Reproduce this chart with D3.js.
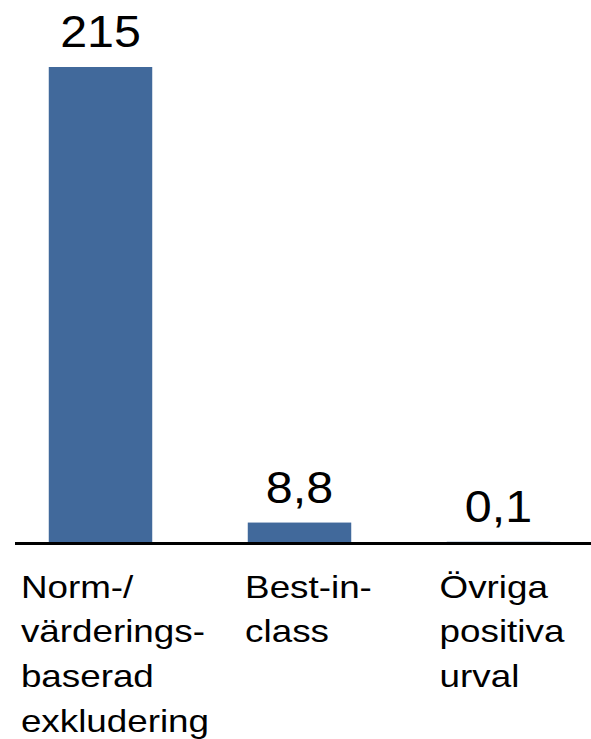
<!DOCTYPE html>
<html lang="sv">
<meta charset="utf-8">
<head>
    <title>Bar chart</title>
    <script src="https://cdn.jsdelivr.net/npm/d3@7"></script>
    <style>
        body {
            margin: 0;
            background: #fff;
            font-family: "Liberation Sans", Arial, sans-serif;
        }
        .value-label { font-size: 44px; fill: #000; }
        .cat-label { font-size: 32px; fill: #000; }
    </style>
</head>
<body>
<script>
    // Data
    const categories = ["norm", "best", "ovriga"];
    const categoryLines = [
        ["Norm-/", "värderings-", "baserad", "exkludering"],
        ["Best-in-", "class"],
        ["Övriga", "positiva", "urval"]
    ];
    const values = [215, 8.8, 0.1];
    const valueLabels = ["215", "8,8", "0,1"];

    const width = 591, height = 739;
    const baseY = 542;
    const stretch = 1.1;     // value text in the picture is slightly wide
    const catStretch = 1.15;

    const svg = d3.select("body").append("svg")
        .attr("width", width)
        .attr("height", height);

    const x = d3.scaleBand()
        .domain(categories)
        .range([1, 598])
        .paddingInner(0.48)
        .paddingOuter(0.24);

    // label blocks sit on a slightly tighter spacing than the bars
    const xLabel = d3.scalePoint()
        .domain(categories)
        .range([115, 502]);

    const y = d3.scaleLinear()
        .domain([0, 215])
        .range([baseY, 67]);

    // bars
    svg.selectAll("rect.bar")
        .data(values)
        .enter().append("rect")
        .attr("class", "bar")
        .attr("x", (d, i) => x(categories[i]))
        .attr("width", x.bandwidth())
        .attr("y", d => y(d))
        .attr("height", d => baseY - y(d))
        .attr("fill", "#41699b");

    // baseline
    svg.append("line")
        .attr("x1", 15).attr("x2", width)
        .attr("y1", baseY + 1.5).attr("y2", baseY + 1.5)
        .attr("stroke", "#000")
        .attr("stroke-width", 3);

    // value labels
    svg.selectAll("text.value-label")
        .data(values)
        .enter().append("text")
        .attr("class", "value-label")
        .attr("text-anchor", "middle")
        .attr("transform", (d, i) => {
            const cx = x(categories[i]) + x.bandwidth() / 2;
            return `translate(${cx},${y(d) - 20}) scale(${stretch},1)`;
        })
        .text((d, i) => valueLabels[i]);

    // category labels, left aligned lines in a block centred under each bar
    const lineH = 45;
    categories.forEach((c, i) => {
        const g = svg.append("g");
        const t = g.selectAll("text")
            .data(categoryLines[i])
            .enter().append("text")
            .attr("class", "cat-label")
            .attr("x", 0)
            .attr("y", (d, j) => j * lineH)
            .text(d => d);
        let maxW = 0;
        t.each(function () { maxW = Math.max(maxW, this.getComputedTextLength()); });
        g.attr("transform", `translate(${xLabel(c) - maxW * catStretch / 2},597.5) scale(${catStretch},1)`);
    });
</script>
</body>
</html>
